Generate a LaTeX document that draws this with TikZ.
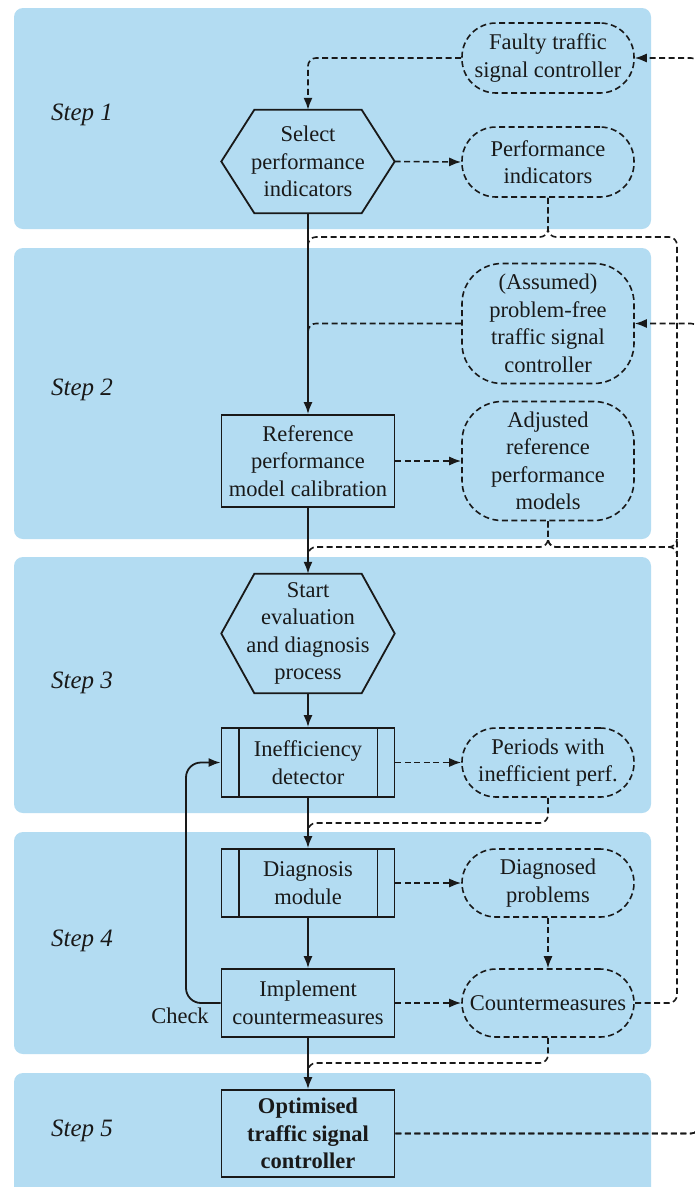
\documentclass[tikz,border=0pt]{standalone}
\usepackage{fontspec}
\setmainfont{Liberation Serif}
\usetikzlibrary{arrows.meta}
\definecolor{panel}{RGB}{179,220,242}
\definecolor{ink}{RGB}{25,25,25}
\begin{document}
\begin{tikzpicture}[x=1pt,y=-1pt,
  every node/.style={text=ink, font=\fontsize{22.5}{27.5}\selectfont, align=center, inner sep=0pt},
  stepbg/.style={fill=panel, draw=none, rounded corners=9pt},
  steplabel/.style={font=\fontsize{25}{30}\selectfont\itshape},
  procbox/.style={draw=ink, line width=1.8pt, minimum width=173pt},
  hexbox/.style={minimum width=173pt},
  databox/.style={draw=ink, line width=1.6pt, dash pattern=on 6pt off 3.5pt, rounded corners=34pt, minimum width=172pt},
  flow/.style={draw=ink, line width=1.8pt, -{Latex[length=12pt,width=9pt]}},
  dl/.style={draw=ink, line width=1.6pt, dash pattern=on 6pt off 3.5pt, rounded corners=8pt},
  dla/.style={dl, -{Latex[length=12pt,width=9pt]}},
]
\useasboundingbox (0,0) rectangle (694,1187);
\fill[white] (0,0) rectangle (694,1187);

% step panels
\path[stepbg] (14,8) rectangle (651,229);
\path[stepbg] (14,248) rectangle (651,539);
\path[stepbg] (14,557) rectangle (651,813);
\path[stepbg] (14,832) rectangle (651,1054);
\path[stepbg] (14,1073) rectangle (651,1200);

\node[steplabel] (s1) at (82,115) {Step 1};
\node[steplabel] (s2) at (82,390) {Step 2};
\node[steplabel] (s3) at (82,683) {Step 3};
\node[steplabel] (s4) at (82,941) {Step 4};
\node[steplabel] (s5) at (82,1131) {Step 5};

% main column
\node[hexbox, minimum height=103pt] (sel) at (308,161.5) {Select\\performance\\indicators};
\node[procbox, minimum height=92pt] (ref) at (308,461) {Reference\\performance\\model calibration};
\node[hexbox, minimum height=119pt] (start) at (308,633.5) {Start\\evaluation\\and diagnosis\\process};
\node[procbox, minimum height=69pt] (ineff) at (308,762.5) {Inefficiency\\detector};
\node[procbox, minimum height=68pt] (diag) at (308,883) {Diagnosis\\module};
\node[procbox, minimum height=68pt] (impl) at (308,1003) {Implement\\countermeasures};
\node[procbox, minimum height=87pt, font=\fontsize{22.5}{27.5}\selectfont\bfseries] (opt) at (308,1133.5) {Optimised\\traffic signal\\controller};

% hexagon outlines
\foreach \n in {sel,start}{
  \draw[ink, line width=1.8pt, line join=miter]
    (\n.west) -- ([xshift=33pt]\n.north west) -- ([xshift=-33pt]\n.north east) -- (\n.east)
    -- ([xshift=-33pt]\n.south east) -- ([xshift=33pt]\n.south west) -- cycle;
}
% predefined-process side bars
\foreach \n in {ineff,diag}{
  \draw[ink, line width=1.8pt] ([xshift=18pt]\n.north west) -- ([xshift=18pt]\n.south west);
  \draw[ink, line width=1.8pt] ([xshift=-18pt]\n.north east) -- ([xshift=-18pt]\n.south east);
}

% data column
\node[databox, minimum height=70pt] (faulty) at (548,58) {Faulty traffic\\signal controller};
\node[databox, minimum height=70pt] (pi) at (548,162) {Performance\\indicators};
\node[databox, minimum height=120pt, rounded corners=40pt] (pf) at (548,323.5) {(Assumed)\\problem-free\\traffic signal\\controller};
\node[databox, minimum height=119pt, rounded corners=40pt] (adj) at (548,461) {Adjusted\\reference\\performance\\models};
\node[databox, minimum height=69pt] (per) at (548,762.5) {Periods with\\inefficient perf.};
\node[databox, minimum height=68pt] (dp) at (548,883) {Diagnosed\\problems};
\node[databox, minimum height=68pt] (cm) at (548,1003) {Countermeasures};

\node (chk) at (180,1016) {Check};

% junction points
\coordinate (m1) at (308,237);   \coordinate (m1b) at (308,252);
\coordinate (r1) at (677,237);
\coordinate (m3) at (308,323.5); \coordinate (m3b) at (308,338);
\coordinate (m2) at (308,547);   \coordinate (m2b) at (308,562);
\coordinate (r2) at (677,547);
\coordinate (m4) at (308,823);   \coordinate (m4b) at (308,838);
\coordinate (m5) at (308,1063);  \coordinate (m5b) at (308,1078);
\coordinate (o1) at (699,1133.5);
\coordinate (o2) at (699,58);
\coordinate (o3) at (699,323.5);
\coordinate (lp) at (186,1003);

% solid process flow
\draw[flow] (sel.south) -- (ref.north);
\draw[flow] (ref.south) -- (start.north);
\draw[flow] (start.south) -- (ineff.north);
\draw[flow] (ineff.south) -- (diag.north);
\draw[flow] (diag.south) -- (impl.north);
\draw[flow] (impl.south) -- (opt.north);
\draw[flow, rounded corners=15pt] (impl.west) -- (lp) |- (ineff.west);

% dashed data flow
\draw[dla] (faulty.west) -| (sel.north);
\draw[dla] (sel.east) -- (pi.west);
\draw[dla] (ref.east) -- (adj.west);
\draw[dla] (ineff.east) -- (per.west);
\draw[dla] (diag.east) -- (dp.west);
\draw[dla] (impl.east) -- (cm.west);
\draw[dla] (dp.south) -- (cm.north);

\draw[dl] (pi.south) |- (m1) -- (m1b);
\draw[dl] (pi.south) |- (r1) |- (cm.east);
\draw[dl] (pf.west) -- (m3) -- (m3b);
\draw[dl] (adj.south) |- (m2) -- (m2b);
\draw[dl] (adj.south) |- (r2) -- ++(0,-8);
\draw[dl] (adj.south) |- (r2) -- ++(0,8);
\draw[dl] (per.south) |- (m4) -- (m4b);
\draw[dl] (cm.south) |- (m5) -- (m5b);

\draw[dla] (opt.east) -- (o1) -- (o2) -- (faulty.east);
\draw[dla] (opt.east) -- (o1) -- (o3) -- (pf.east);
\end{tikzpicture}
\end{document}
